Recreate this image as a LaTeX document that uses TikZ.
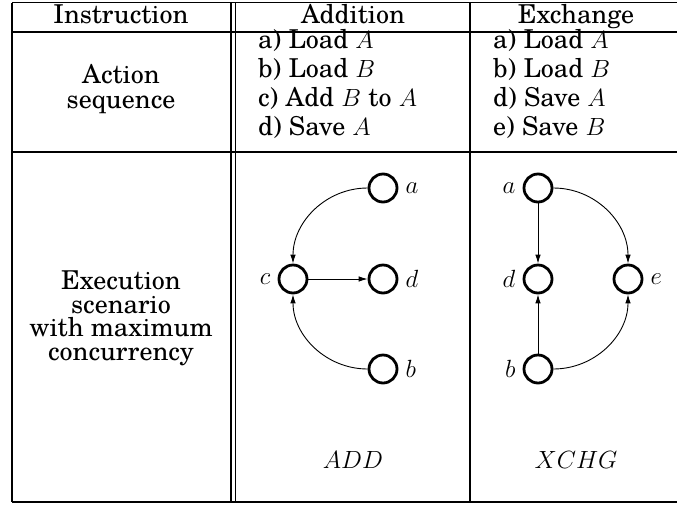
\documentclass[tikz,border=0pt]{standalone}
\usepackage{fontspec}
\setmainfont{TeX Gyre Schola}
\usetikzlibrary{arrows.meta}

\tikzset{
  rule/.style={line width=1.2pt},
  state/.style={circle, draw, line width=2.8pt, minimum size=28pt, inner sep=0pt},
  flow/.style={line width=0.9pt, -{Latex[length=9pt,width=5.5pt]}},
  txt/.style={inner sep=0pt, font=\fontsize{26}{29}\selectfont},
  block/.style={inner sep=0pt, align=center},
  lbl/.style={inner sep=0pt, font=\fontsize{26}{29}\selectfont},
}

\begin{document}
\begin{tikzpicture}[x=1pt,y=-1pt]
\useasboundingbox (0,0) rectangle (677,504);
\begin{scope}
\clip (0,0) rectangle (677,504);

% table rules
\draw[rule] (12,2.5) -- (682,2.5);
\draw[rule] (12,32) -- (682,32);
\draw[rule] (12,152) -- (682,152);
\draw[rule] (12,502) -- (682,502);
\draw[rule] (12,2.5) -- (12,502);
\draw[rule] (231,2.5) -- (231,502);
\draw[rule] (235.8,2.5) -- (235.8,502);
\draw[rule] (470,2.5) -- (470,502);
\draw[rule] (682,2.5) -- (682,502);

% header row
\node[txt, anchor=base] (h1) at (121,23) {Instruction};
\node[txt, anchor=base] (h2) at (353,23) {Addition};
\node[txt, anchor=base] (h3) at (576,23) {Exchange};

% action sequence row (base anchor sits on the last line)
\node[block, font=\fontsize{26}{25}\selectfont, anchor=base] (r1) at (121,108)
  {Action\\sequence};

\node[block, align=left, font=\fontsize{26}{29}\selectfont, anchor=base west] (ad) at (258,135)
  {a) Load $A$\\b) Load $B$\\c) Add $B$ to $A$\\d) Save $A$};
\node[block, align=left, font=\fontsize{26}{29}\selectfont, anchor=base west] (ex) at (493,135)
  {a) Load $A$\\b) Load $B$\\d) Save $A$\\e) Save $B$};

% execution scenario row
\node[block, font=\fontsize{26}{23.4}\selectfont, anchor=base] (r2) at (121,360)
  {Execution\\scenario\\with maximum\\concurrency};

% addition graph
\node[state, label={[lbl, label distance=7pt]right:$a$}] (pa) at (383,188) {};
\node[state, label={[lbl, label distance=7pt]left:$c$}]  (pc) at (293,279) {};
\node[state, label={[lbl, label distance=7pt]right:$d$}] (pd) at (383,279) {};
\node[state, label={[lbl, label distance=7pt]right:$b$}] (pb) at (383,369) {};
\draw[flow] (pa.west) to[out=180,in=90] (pc.north);
\draw[flow] (pb.west) to[out=180,in=270] (pc.south);
\draw[flow] (pc) -- (pd);

% exchange graph
\node[state, label={[lbl, label distance=7pt]left:$a$}]  (qa) at (538,188) {};
\node[state, label={[lbl, label distance=7pt]left:$d$}]  (qd) at (538,279) {};
\node[state, label={[lbl, label distance=7pt]right:$e$}] (qe) at (628,279) {};
\node[state, label={[lbl, label distance=7pt]left:$b$}]  (qb) at (538,369) {};
\draw[flow] (qa) -- (qd);
\draw[flow] (qb) -- (qd);
\draw[flow] (qa.east) to[out=0,in=90] (qe.north);
\draw[flow] (qb.east) to[out=0,in=270] (qe.south);

% instruction names
\node[txt, anchor=base] (n1) at (353,468) {$ADD$};
\node[txt, anchor=base] (n2) at (576,468) {$XCHG$};
\end{scope}
\end{tikzpicture}
\end{document}
